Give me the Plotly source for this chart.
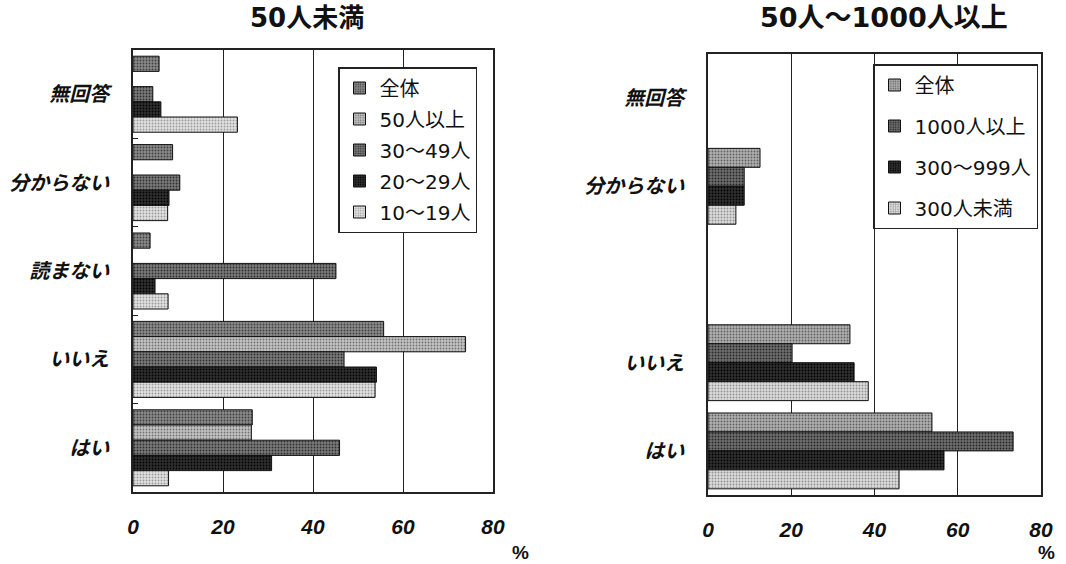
import plotly.graph_objects as go

# ---- data ----
categories = ["無回答", "分からない", "読まない", "いいえ", "はい"]

left_series = ["全体", "50人以上", "30～49人", "20～29人", "10～19人"]
left_zentai = [5.8, 8.8, 3.8, 55.7, 26.5]
left_50plus = [None, None, None, 73.9, 26.3]
left_30_49 = [4.4, 10.4, 45.1, 46.9, 45.9]
left_20_29 = [6.2, 8.0, 4.9, 54.1, 30.8]
left_10_19 = [23.2, 7.7, 7.8, 53.8, 7.9]

right_series = ["全体", "1000人以上", "300～999人", "300人未満"]
right_zentai = [None, 12.5, None, 34.1, 53.8]
right_1000plus = [None, 8.7, None, 20.2, 73.3]
right_300_999 = [None, 8.7, None, 35.1, 56.7]
right_under300 = [None, 6.7, None, 38.5, 45.9]
right_ticklabels = ["無回答", "分からない", "", "いいえ", "はい"]

x_ticks = [0, 20, 40, 60, 80]

left_values = [left_zentai, left_50plus, left_30_49, left_20_29, left_10_19]
right_values = [right_zentai, right_1000plus, right_300_999, right_under300]

# styles (bg, fg for dotted texture)
left_styles = [("#8a8a8a", "#404040"), ("#c4c4c4", "#707070"), ("#7a7a7a", "#2e2e2e"),
               ("#303030", "#000000"), ("#e2e2e2", "#9a9a9a")]
right_styles = [("#b0b0b0", "#606060"), ("#6e6e6e", "#262626"),
                ("#303030", "#000000"), ("#dcdcdc", "#909090")]

FONT = "Liberation Sans, Noto Sans CJK JP, sans-serif"
JFONT = "Noto Sans CJK JP, sans-serif"
WFONT = "DejaVu Sans, Noto Sans CJK JP, sans-serif"

fig = go.Figure()

for i, (name, vals, (bg, fg)) in enumerate(zip(left_series, left_values, left_styles)):
    fig.add_trace(go.Bar(
        y=categories, x=vals, name=name, orientation="h",
        xaxis="x", yaxis="y", legend="legend", legendgroup=f"L{i}",
        marker=dict(color=bg, line=dict(color="#111111", width=1),
                    pattern=dict(shape=".", fgcolor=fg, bgcolor=bg, size=3, solidity=0.3, fillmode="replace")),
    ))

for i, (name, vals, (bg, fg)) in enumerate(zip(right_series, right_values, right_styles)):
    fig.add_trace(go.Bar(
        y=categories, x=vals, name=name, orientation="h",
        xaxis="x2", yaxis="y2", legend="legend2", legendgroup=f"R{i}",
        marker=dict(color=bg, line=dict(color="#111111", width=1),
                    pattern=dict(shape=".", fgcolor=fg, bgcolor=bg, size=3, solidity=0.3, fillmode="replace")),
    ))

W, H = 1066, 564

def px_x(p):
    return p / W

def px_y(p):
    return 1 - p / H

xaxis_common = dict(
    range=[0, 80], tickvals=x_ticks, ticktext=[str(v) for v in x_ticks],
    showgrid=True, gridcolor="#222222", gridwidth=1.2,
    showline=True, linecolor="#222222", linewidth=1.5, mirror=True,
    zeroline=False, ticks="", automargin=False,
    tickfont=dict(family=FONT, size=21, color="#111111", weight="bold", style="italic"),
    ticklabelstandoff=15, fixedrange=True,
)
yaxis_common = dict(
    type="category", categoryorder="array", categoryarray=categories,
    autorange="reversed", showgrid=False, zeroline=False, automargin=False,
    showline=True, linecolor="#222222", linewidth=1.5, mirror=True,
    tickfont=dict(family=JFONT, size=20, color="#111111", weight="bold", style="italic"),
    ticklabelstandoff=18, fixedrange=True,
)

legend_common = dict(
    xanchor="left", yanchor="top",
    bgcolor="white", bordercolor="#222222", borderwidth=1.5,
    font=dict(family=WFONT, size=20, color="#111111"),
    traceorder="grouped", itemwidth=30,
    itemclick=False, itemdoubleclick=False,
)

fig.update_layout(
    width=W, height=H,
    margin=dict(l=0, r=0, t=0, b=0, autoexpand=False),
    paper_bgcolor="white", plot_bgcolor="white",
    barmode="group", bargap=0.14, bargroupgap=0,
    showlegend=True,
    xaxis=dict(domain=[px_x(133), px_x(493)], anchor="y", **xaxis_common),
    yaxis=dict(domain=[px_y(492), px_y(50)], anchor="x",
               ticks="inside", tickson="boundaries", ticklen=5, tickcolor="#222222",
               **yaxis_common),
    xaxis2=dict(domain=[px_x(708), px_x(1041)], anchor="y2", **xaxis_common),
    yaxis2=dict(domain=[px_y(495), px_y(54)], anchor="x2",
                tickmode="array", tickvals=categories, ticktext=right_ticklabels,
                ticks="", **yaxis_common),
    legend=dict(x=px_x(338), y=px_y(67), tracegroupgap=2, **legend_common),
    legend2=dict(x=px_x(873), y=px_y(64), tracegroupgap=12, **legend_common),
    annotations=[
        dict(text="<b>50人未満</b>", x=px_x(307), y=px_y(18), xref="paper", yref="paper",
             xanchor="center", yanchor="middle",
             showarrow=False, font=dict(family=WFONT, size=26, color="#111111")),
        dict(text="<b>50人～1000人以上</b>", x=px_x(884), y=px_y(18), xref="paper", yref="paper",
             xanchor="center", yanchor="middle",
             showarrow=False, font=dict(family=WFONT, size=27, color="#111111")),
        dict(text="<b>%</b>", x=px_x(520), y=px_y(552), xref="paper", yref="paper",
             xanchor="center", yanchor="middle",
             showarrow=False, font=dict(family=FONT, size=19, color="#111111")),
        dict(text="<b>%</b>", x=px_x(1046), y=px_y(552), xref="paper", yref="paper",
             xanchor="center", yanchor="middle",
             showarrow=False, font=dict(family=FONT, size=19, color="#111111")),
    ],
)

fig.write_html(
    "out.html",
    config={"displayModeBar": False},
    post_script="document.body.style.margin='0';document.body.style.padding='0';",
)
